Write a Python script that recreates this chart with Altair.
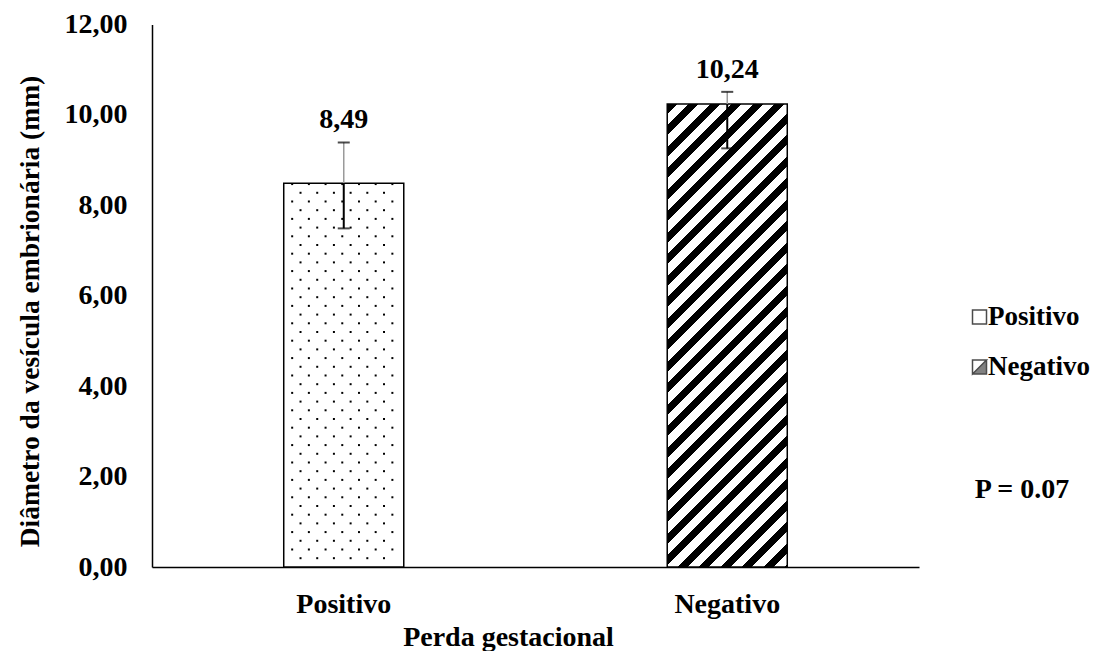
import altair as alt
import pandas as pd
import numpy as np

# ---- data ----
grupos = ["Positivo", "Negativo"]
medias = [8.49, 10.24]
erro_inf = [7.49, 9.26]
erro_sup = [9.39, 10.51]
rotulos = ["8,49", "10,24"]
y_ticks = [0, 2, 4, 6, 8, 10, 12]
p_texto = "P = 0.07"

# ---- layout / style ----
W, H = 767, 542.5
TOP = 16.5
PAD_IN = 0.687
FONT = "Liberation Serif"
FS = 28

df = pd.DataFrame({"grupo": grupos, "media": medias, "inf": erro_inf,
                   "sup": erro_sup, "rotulo": rotulos})

xscale = alt.Scale(domain=grupos, paddingInner=PAD_IN, paddingOuter=PAD_IN / 2)
x_axis = alt.Axis(labelAngle=0, ticks=False, labelPadding=37, labelBaseline="middle",
                  labelFont=FONT, labelFontSize=FS, labelFontWeight="bold", labelColor="black",
                  domainColor="black", domainWidth=1.5,
                  title="Perda gestacional", titleFont=FONT, titleFontSize=FS,
                  titleFontWeight="bold", titleColor="black",
                  titleX=356, titleY=70, titleBaseline="middle", titleAlign="center")


def xenc(axis=False):
    if axis:
        return alt.X("grupo:N", scale=xscale, axis=x_axis, sort=grupos)
    return alt.X("grupo:N", scale=xscale, axis=None, sort=grupos)


y_axis = alt.Axis(values=y_ticks, labelExpr="replace(format(datum.value, '.2f'), '.', ',')",
                  grid=False, ticks=False, labelPadding=25,
                  labelFont=FONT, labelFontSize=FS, labelFontWeight="bold", labelColor="black",
                  domainColor="black", domainWidth=1.5,
                  title="Diâmetro da vesícula embrionária (mm)", titleFont=FONT,
                  titleFontSize=27.5, titleFontWeight="bold", titleColor="black",
                  titleX=-122, titleY=286.5, titleBaseline="middle", titleAlign="center",
                  titleAngle=270)
yscale = alt.Scale(domain=[0, 12], nice=False, zero=True)


def yenc(field):
    return alt.Y(field, scale=yscale, axis=y_axis)


base = alt.Chart(df)

# ---- diagonal stripe texture (gradient) for the Negativo bar ----
w = W / 2 * (1 - PAD_IN)
h = medias[1] / 12 * H
r = h / w
a = (w + h) / (w * (1 + r * r))
period = 21.5 / (w + h)
stops = []
k = 0
while k * period < 1:
    t0 = k * period
    t1 = min(t0 + 0.47 * period, 1)
    t2 = min((k + 1) * period, 1)
    stops += [alt.GradientStop(color="black", offset=t0),
              alt.GradientStop(color="black", offset=t1),
              alt.GradientStop(color="white", offset=t1),
              alt.GradientStop(color="white", offset=t2)]
    k += 1
stripes = alt.LinearGradient(gradient="linear", stops=stops, x1=0, y1=0, x2=a, y2=a * r)

bar_pos = base.transform_filter(alt.datum.grupo == "Positivo").mark_bar(
    fill="white").encode(x=xenc(True), y=yenc("media:Q"))
bar_neg = base.transform_filter(alt.datum.grupo == "Negativo").mark_bar(
    fill=stripes).encode(x=xenc(), y=yenc("media:Q"))

# ---- dotted texture for the Positivo bar ----
dx_step = 16.7 / (W / 2)
dy_step = 8.7 / (H / 12)
half = (1 - PAD_IN) / 2
xa, xb = 0.5 - half, 0.5 + half
px, py = [], []
for i, yv in enumerate(np.arange(medias[0] - 0.02, 0.08, -dy_step)):
    off = 0 if i % 2 == 0 else dx_step / 2
    for xv in np.arange(xa + 0.022 + off, xb - 0.008, dx_step):
        px.append(xv)
        py.append(yv)
dots_df = pd.DataFrame({"px": px, "py": py})
dots = alt.Chart(dots_df).mark_square(size=4, color="black", opacity=1).encode(
    x=alt.X("px:Q", scale=alt.Scale(domain=[0, 2], nice=False, zero=False), axis=None),
    y=yenc("py:Q"))

outline = base.mark_bar(fill="transparent", stroke="black", strokeWidth=1.5).encode(
    x=xenc(), y=yenc("media:Q"))

err_up = base.mark_rule(color="#9a9a9a", strokeWidth=1.5).encode(
    x=xenc(), y=yenc("media:Q"), y2="sup:Q")
err_low = base.mark_rule(color="black", strokeWidth=2).encode(
    x=xenc(), y=yenc("inf:Q"), y2="media:Q")
caps_up = base.mark_tick(color="black", thickness=2, size=12).encode(
    x=xenc(), y=yenc("sup:Q"))
caps_low = base.mark_tick(color="black", thickness=2, size=12).encode(
    x=xenc(), y=yenc("inf:Q"))

labels = base.mark_text(font=FONT, fontSize=FS, fontWeight="bold", color="black",
                        baseline="alphabetic", dy=-14).encode(
    x=xenc(), y=yenc("sup:Q"), text="rotulo:N")

path_pos = "M-1,-1L1,-1L1,1L-1,1Z"
path_neg = "M-1,-1L1,-1L1,1L-1,1Z M-1,-1L-1,1L1,-1Z"
leg = alt.Legend(title=None, orient="none", legendX=814, legendY=279,
                 labelFont=FONT, labelFontSize=27, labelFontWeight="bold", labelColor="black",
                 symbolSize=196, symbolStrokeWidth=1.5, rowPadding=22,
                 labelOffset={"expr": "-5"})
legend_layer = base.mark_point(filled=True, clip=True, strokeWidth=1.5).encode(
    x=xenc(), y=alt.value(-1000),
    fill=alt.Fill("grupo:N", scale=alt.Scale(domain=grupos, range=["white", "black"]), legend=leg),
    stroke=alt.Stroke("grupo:N", scale=alt.Scale(domain=grupos, range=["black", "black"]), legend=leg),
    shape=alt.Shape("grupo:N", scale=alt.Scale(domain=grupos, range=[path_pos, path_neg]), legend=leg),
)

ptext = alt.Chart(pd.DataFrame({"t": [p_texto]})).mark_text(
    font=FONT, fontSize=FS, fontWeight="bold", color="black", align="center",
    baseline="middle").encode(text="t:N", x=alt.value(870), y=alt.value(465.5))

chart = alt.layer(bar_pos, bar_neg, dots, outline, err_up, err_low, caps_up, caps_low,
                  labels, legend_layer, ptext).resolve_scale(x="independent").properties(
    width=W, height=H, autosize="none",
    padding={"left": 144, "top": TOP, "right": 172, "bottom": 84},
    background="white",
).configure_view(stroke=None)

chart.save("out.html", embed_options={"renderer": "svg", "actions": False})
